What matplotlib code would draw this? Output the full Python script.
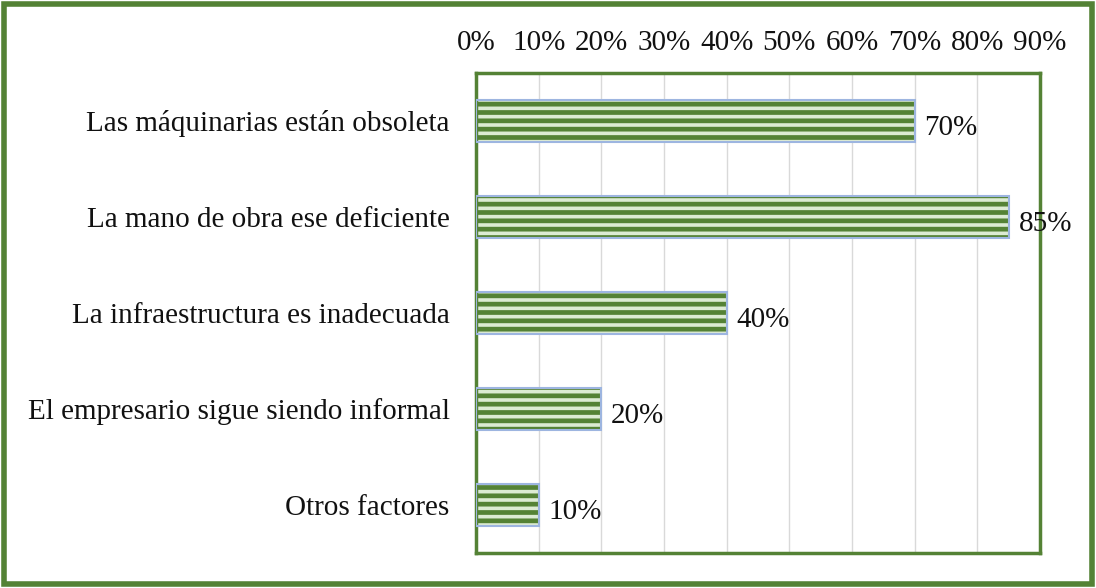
import matplotlib.pyplot as plt
from matplotlib.patches import Rectangle

categories = [
    "Las máquinarias están obsoleta",
    "La mano de obra ese deficiente",
    "La infraestructura es inadecuada",
    "El empresario sigue siendo informal",
    "Otros factores",
]
values = [70, 85, 40, 20, 10]
ticks = [0, 10, 20, 30, 40, 50, 60, 70, 80, 90]

dark_green = "#548235"
light_green = "#dcebd3"
blue_edge = "#9db5e0"

plt.rcParams["font.family"] = ["Liberation Serif", "DejaVu Serif"]
plt.rcParams["hatch.linewidth"] = 3.4

fig = plt.figure(figsize=(10.96, 5.88), dpi=100)
ax = fig.add_axes([0.4343, 0.0595, 0.5146, 0.8164])

y = list(range(len(categories)))
# striped fill, then a thin blue outline on top
ax.barh(y, values, height=0.43, color=light_green, edgecolor=dark_green,
        hatch="--", linewidth=0, zorder=2)
ax.barh(y, values, height=0.43, fill=False, edgecolor=blue_edge,
        linewidth=1.5, zorder=3)

for yi, v in zip(y, values):
    ax.annotate(f"{v}%", (v, yi), xytext=(7, -5), textcoords="offset points",
                va="center", ha="left", fontsize=21, color="#111111", zorder=4,
                annotation_clip=False)

ax.set_xlim(0, 90)
ax.set_ylim(4.5, -0.5)
ax.set_xticks(ticks)
ax.set_xticklabels([f"{t}%" for t in ticks])
ax.xaxis.tick_top()
ax.set_yticks(y)
ax.set_yticklabels(categories)
ax.tick_params(axis="both", length=0, labelsize=21, colors="#111111")
ax.tick_params(axis="x", pad=12)
ax.tick_params(axis="y", pad=19)
ax.grid(axis="x", color="#d9d9d9", linewidth=1, zorder=0)
ax.set_axisbelow(True)
for s in ax.spines.values():
    s.set_color(dark_green)
    s.set_linewidth(2.5)

# outer frame around the whole picture
fig.patches.append(Rectangle((0.004, 0.006), 0.992, 0.988, transform=fig.transFigure,
                             fill=False, edgecolor=dark_green, linewidth=4))

fig.savefig("out.png", dpi=100)
